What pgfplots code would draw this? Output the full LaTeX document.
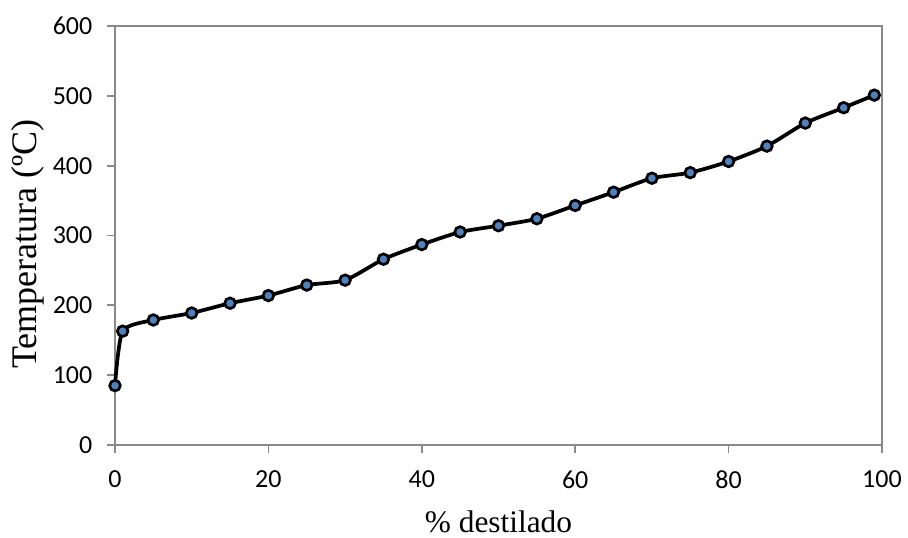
\documentclass[border=0pt]{standalone}
\usepackage{pgfplots}
\pgfplotsset{compat=1.18}
\usepackage{fontspec}
\setmainfont{Liberation Serif}
\newfontfamily\calibri{Carlito}
\definecolor{framegray}{HTML}{898989}
\definecolor{markblue}{HTML}{4F81BD}
\begin{document}
\begin{tikzpicture}
\useasboundingbox (-86.25pt,-69.75pt) rectangle (594.75pt,333.75pt);
\begin{axis}[
  at={(0,0)}, anchor=south west,
  scale only axis,
  width=575.25pt, height=314.25pt,
  xmin=0, xmax=100, ymin=0, ymax=600,
  xtick={0,20,...,100}, ytick={0,100,...,600},
  axis line style={framegray, line width=1.3pt},
  tick style={framegray, line width=1.3pt},
  tick align=outside,
  major tick length=6pt,
  xtick pos=bottom, ytick pos=left,
  /pgf/number format/assume math mode=true,
  ticklabel style={font=\calibri\fontsize{19.5}{20}\selectfont},
  xticklabel style={yshift=-10pt},
  yticklabel style={xshift=-7.5pt},
  every axis x label/.style={at={(axis description cs:0.5,-0.21)}, anchor=base, font=\fontsize{23.5}{26}\selectfont},
  every axis y label/.style={at={(axis description cs:-0.1017,0.48)}, rotate=90, anchor=base, font=\fontsize{27}{30}\selectfont},
  xlabel={\% destilado},
  ylabel={Temperatura (ºC)},
  clip=false,
]
\addplot[black, line width=2.8pt, smooth, tension=0.4,
  mark=*, mark size=4pt,
  mark options={fill=markblue, draw=black, line width=2pt}]
coordinates {
(0,85) (1,163) (5,179) (10,189) (15,203) (20,214) (25,229) (30,236)
(35,266) (40,287) (45,305) (50,314) (55,324) (60,343) (65,362)
(70,382) (75,390) (80,406) (85,428) (90,461) (95,483) (99,501)
};
\end{axis}
\end{tikzpicture}
\end{document}
